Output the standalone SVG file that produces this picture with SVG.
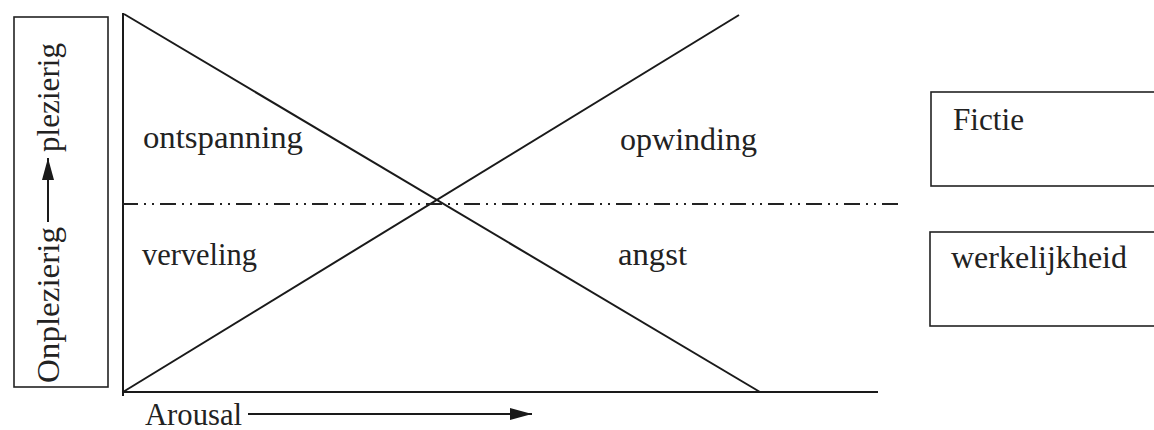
<svg xmlns="http://www.w3.org/2000/svg" width="1154" height="430" viewBox="0 0 1154 430">
<style>
  .t { font-family: "Liberation Serif", "Times New Roman", serif; font-size: 31px; fill: #222; }
  .box { fill: none; stroke: #222; stroke-width: 1.6; }
  .ln { stroke: #1a1a1a; stroke-width: 2; fill: none; }
  .dash { stroke: #222; stroke-width: 2; fill: none; stroke-dasharray: 16 6 2 6 2 6; }
</style>
<defs>
  <marker id="ah2" viewBox="0 0 22 12" refX="22" refY="6" markerWidth="22" markerHeight="12" markerUnits="userSpaceOnUse" orient="auto">
    <path d="M0,0 L22,6 L0,12 Z" fill="#1a1a1a"/>
  </marker>
</defs>

<g id="yaxis-label">
  <rect class="box" x="14" y="17" width="94" height="370"/>
  <text class="t" transform="translate(59,383) rotate(-90)" textLength="156" lengthAdjust="spacingAndGlyphs">Onplezierig</text>
  <line class="ln" x1="48" y1="222" x2="48" y2="158" stroke-width="1.8" marker-end="url(#ah2)"/>
  <text class="t" transform="translate(59,152) rotate(-90)" textLength="109" lengthAdjust="spacingAndGlyphs">plezierig</text>
</g>

<g id="connectors">
  <line class="ln" x1="123" y1="13" x2="123" y2="396"/>
  <line class="ln" x1="122" y1="392" x2="878" y2="392"/>
  <line class="ln" x1="124" y1="14" x2="760" y2="392"/>
  <line class="ln" x1="123" y1="392" x2="739" y2="15"/>
  <line class="dash" x1="122" y1="204" x2="902" y2="204"/>
  <line class="ln" x1="248" y1="414" x2="532" y2="414" stroke-width="1.8" marker-end="url(#ah2)"/>
</g>

<g id="quadrants">
  <text class="t" x="143" y="148" textLength="160" lengthAdjust="spacingAndGlyphs">ontspanning</text>
  <text class="t" x="620" y="150" textLength="137" lengthAdjust="spacingAndGlyphs">opwinding</text>
  <text class="t" x="142" y="265" textLength="115" lengthAdjust="spacingAndGlyphs">verveling</text>
  <text class="t" x="618" y="265" textLength="69" lengthAdjust="spacingAndGlyphs">angst</text>
</g>

<g id="xaxis-label">
  <text class="t" x="145" y="425" textLength="97" lengthAdjust="spacingAndGlyphs">Arousal</text>
</g>

<g id="fictie">
  <rect class="box" x="931" y="92" width="240" height="94"/>
  <text class="t" x="953" y="130" textLength="71" lengthAdjust="spacingAndGlyphs">Fictie</text>
</g>

<g id="werkelijkheid">
  <rect class="box" x="930" y="232" width="240" height="94"/>
  <text class="t" x="951" y="268" textLength="176" lengthAdjust="spacingAndGlyphs">werkelijkheid</text>
</g>
</svg>
